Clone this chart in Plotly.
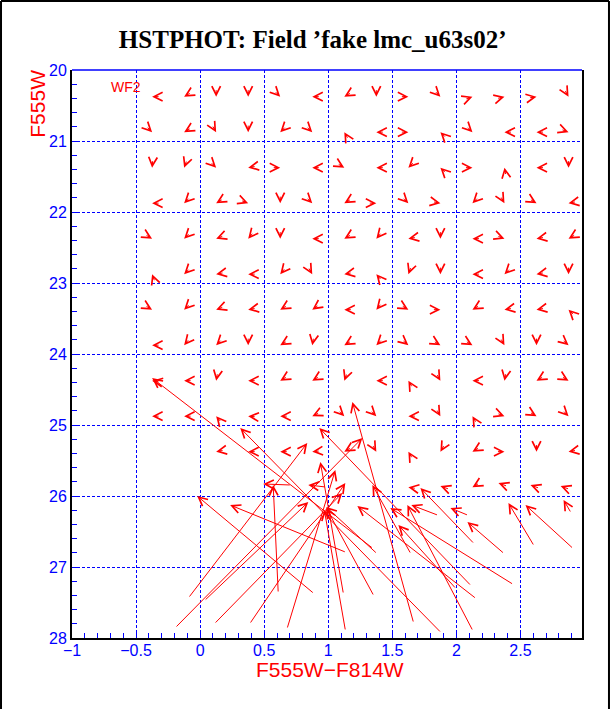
import math
import plotly.graph_objects as go

# ---------------- data ----------------
# grid of fake-star colours / magnitudes (small arrows)
col_x = [-0.375, -0.125, 0.125, 0.375, 0.625, 0.875, 1.125,
         1.375, 1.625, 1.875, 2.125, 2.375, 2.625, 2.875]
row_y = [20.375, 20.875, 21.375, 21.875, 22.375, 22.875,
         23.375, 23.875, 24.375, 24.875, 25.375, 25.875]

# direction (deg, screen: 0=right, 90=up) of each small error arrow; None = no star
chevron_dir = [
    [180, 210, 270, 270, 315, 180, 210, 270, 0, 315, 20, 15, 10, 300],
    [315, 210, 300, 270, 225, 315, 120, 180, 0, 135, 315, 180, 180, 340],
    [265, 250, 315, 190, 0, 180, 330, 180, 225, 135, 0, 100, 180, 270],
    [180, 225, 210, 340, 270, 315, 210, 0, 315, 350, 225, 300, 330, 190],
    [330, 225, 200, 230, 270, 180, 210, 230, 190, 270, 180, 340, 190, 210],
    [110, 225, 190, 180, 230, 300, 190, 130, 250, 270, 180, 225, 190, 270],
    [330, 225, 200, 190, 210, 215, 180, 230, 330, 0, 210, 190, 190, 135],
    [180, 230, 225, 270, 210, 260, 210, 225, 320, 330, 330, 300, 270, 320],
    [170, 180, 260, 180, 210, 210, 250, 180, 120, 300, 180, 260, 210, 330],
    [180, 180, 130, 175, 180, 205, 315, 315, 180, 300, 120, 340, 330, 315],
    [None, None, 190, 180, 180, 185, 210, 300, 120, 240, 210, 0, 270, 190],
    [None, None, None, None, None, None, None, None, 170, None, 210, None, None, None],
]

# long arrows: input (tail) -> recovered (head)
long_x0 = [1.344, 0.883, 1.133, 1.875, 1.664, 2.109, 2.125, 1.992, 2.148, 2.438,
           2.367, 2.602, 2.906, 2.133, 1.641, 1.117, 1.352, 2.891, 2.086, 1.852,
           -0.086, -0.188, 0.117, 0.391, 0.680, 0.609, 0.039, 0.703, 0.977,
           1.938, 2.391, 2.641, 2.875, 1.375, 1.133]
long_y0 = [26.732, 27.366, 26.789, 27.915, 27.775, 27.254, 27.887, 27.296, 27.437, 27.239,
           26.803, 26.690, 26.732, 26.662, 26.803, 27.366, 27.394, 26.225, 26.268, 26.268,
           27.423, 27.845, 27.789, 27.789, 27.859, 27.352, 27.465, 25.845, 25.873,
           25.901, 25.859, 25.887, 25.901, 26.803, 27.887]
long_x1 = [-0.375, -0.023, 0.234, 0.313, 1.188, 0.930, 1.617, 1.547, 1.227, 1.484,
           2.086, 2.406, 2.539, 1.719, 1.344, 0.938, 0.984, 2.836, 1.953, 1.648,
           0.836, 1.266, 1.109, 1.133, 1.055, 0.570, 0.844, 0.492, 0.844,
           1.875, 2.328, 2.578, 2.813, 0.984, 0.969]
long_y1 = [24.338, 26.000, 26.127, 25.042, 24.676, 25.042, 26.127, 26.408, 26.141, 26.169,
           26.366, 26.099, 26.127, 25.887, 25.845, 25.521, 26.169, 26.056, 26.169, 26.127,
           25.254, 25.183, 25.958, 25.817, 25.634, 25.845, 26.085, 25.831, 25.845,
           25.859, 25.817, 25.845, 25.859, 26.155, 26.197]

x_ticks = [-1, -0.5, 0, 0.5, 1, 1.5, 2, 2.5]
y_ticks = [20, 21, 22, 23, 24, 25, 26, 27, 28]

RED = "#ff0000"
BLUE = "#0000ff"

fig = go.Figure()
fig.add_trace(go.Scatter(x=long_x0, y=long_y0, mode="markers",
                         marker=dict(opacity=0), hoverinfo="skip", showlegend=False))

annotations = []
head = dict(showarrow=True, arrowhead=5, arrowsize=1.7, arrowwidth=1,
            arrowcolor=RED, text="", standoff=0, startstandoff=0,
            borderpad=0, font=dict(size=1))
L = 7.0
for j, yv in enumerate(row_y):
    for i, xv in enumerate(col_x):
        d = chevron_dir[j][i]
        if d is None:
            continue
        t = math.radians(d)
        annotations.append(dict(x=xv, y=yv, xref="x", yref="y",
                                ax=-L * math.cos(t), ay=L * math.sin(t), **head))
for x0, y0, x1, y1 in zip(long_x0, long_y0, long_x1, long_y1):
    annotations.append(dict(x=x1, y=y1, xref="x", yref="y", ax=x0, ay=y0,
                            axref="x", ayref="y", **head))

annotations.append(dict(x=-0.578, y=20.24, xref="x", yref="y", text="WF2",
                        showarrow=False, xanchor="center", yanchor="middle",
                        font=dict(family="Liberation Sans", size=14, color=RED)))
annotations.append(dict(x=-0.0667, y=1.004, xref="paper", yref="paper", text="F555W",
                        textangle=-90, showarrow=False, xanchor="center", yanchor="top",
                        font=dict(family="Liberation Sans", size=21, color=RED)))
annotations.append(dict(x=0.506, y=-0.056, xref="paper", yref="paper", text="F555W\u2212F814W",
                        showarrow=False, xanchor="center", yanchor="middle",
                        font=dict(family="Liberation Sans", size=21, color=RED)))

axis_common = dict(showgrid=True, gridcolor=BLUE, gridwidth=1, griddash="3px,2px",
                   zeroline=False, showline=True, linecolor="black", linewidth=2,
                   ticks="inside", ticklen=5, tickcolor=BLUE, tickwidth=1,
                   tickfont=dict(family="Liberation Sans", size=16, color=BLUE))

fig.update_layout(
    width=612, height=709,
    margin=dict(l=72, r=30, t=70, b=71),
    paper_bgcolor="white", plot_bgcolor="white",
    title=dict(text="<b>HSTPHOT: Field \u2019fake lmc_u63s02\u2019</b>",
               x=0.511, xref="container", y=0.944, yref="container",
               xanchor="center", yanchor="middle",
               font=dict(family="Liberation Serif", size=25, color="black")),
    xaxis=dict(range=[-1, 2.98], tickvals=x_ticks, mirror=False, ticklabelstandoff=-3,
               minor=dict(dtick=0.1, tick0=-1, ticks="inside", ticklen=5, tickcolor=BLUE, showgrid=False),
               **axis_common),
    yaxis=dict(range=[28, 20], tickvals=y_ticks, mirror=True,
               minor=dict(dtick=0.2, tick0=20, ticks="inside", ticklen=5, tickcolor=BLUE, showgrid=False),
               **axis_common),
    annotations=annotations,
    shapes=[
        dict(type="line", xref="paper", yref="paper", x0=0, x1=1, y0=1, y1=1,
             line=dict(color=BLUE, width=1.5)),
        dict(type="line", xref="paper", yref="paper", x0=-0.1392, x1=-0.1392, y0=-0.125, y1=1.1215,
             line=dict(color="black", width=2)),
        dict(type="line", xref="paper", yref="paper", x0=-0.1392, x1=1.0529, y0=1.1215, y1=1.1215,
             line=dict(color="black", width=2)),
        dict(type="line", xref="paper", yref="paper", x0=1.0529, x1=1.0529, y0=-0.125, y1=1.1215,
             line=dict(color="black", width=2)),
    ],
)

fig.write_html("out.html", config={"displayModeBar": False},
               post_script="document.body.style.margin='0';document.body.style.overflow='hidden';")
